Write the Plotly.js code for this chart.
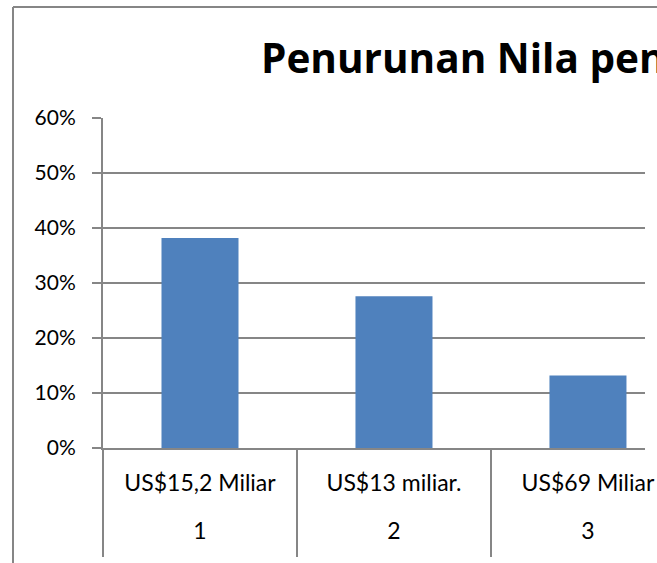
<!DOCTYPE html>
<html><head><meta charset="utf-8">
<script src="https://cdn.plot.ly/plotly-3.0.1.min.js"></script>
<style>html,body{margin:0;padding:0;background:#fff}#chart{width:657px;height:563px}</style>
</head><body><div id="chart"></div>
<script>
const groups = ["1", "2", "3"];
const categories = ["US$15,2 Miliar", "US$13 miliar.", "US$69 Miliar"];
const values = [0.382, 0.276, 0.132];
const yTicks = [0, 0.1, 0.2, 0.3, 0.4, 0.5, 0.6];
const titleText = "Penurunan Nila pen";

const FONT = "Lato, 'Open Sans', sans-serif";
const GRAY = "#868686";
const bars = {
  type: "bar",
  x: categories,
  y: values,
  marker: {color: "#4f81bd", line: {width: 0}},
  hoverinfo: "skip"
};
const groupLevel = {
  type: "scatter", mode: "none",
  x: groups, y: groups.map(() => 0),
  xaxis: "x2", yaxis: "y",
  hoverinfo: "skip", showlegend: false
};
const layout = {
  width: 657, height: 563,
  margin: {l: 103, r: 12, t: 118, b: 115, pad: 0},
  paper_bgcolor: "#fff", plot_bgcolor: "#fff",
  showlegend: false,
  bargap: 0.603,
  title: {text: "<b>" + titleText + "</b>", x: 261/657, xanchor: "left", xref: "container",
          y: 1 - 59/563, yanchor: "middle", yref: "container", pad: {l: 0, r: 0, t: 0, b: 0},
          font: {family: "'Open Sans', sans-serif", size: 40.5, color: "#000"}},
  xaxis: {type: "category", range: [-0.5, 2.294], showgrid: false,
          showline: true, linecolor: GRAY, linewidth: 2,
          tickson: "boundaries", ticks: "outside", ticklen: 107, tickwidth: 2, tickcolor: GRAY,
          ticklabelstandoff: 13,
          tickfont: {family: FONT, size: 23, color: "#000"}, fixedrange: true},
  xaxis2: {type: "category", overlaying: "x", anchor: "y", side: "bottom",
           range: [-0.5, 2.294],
           showgrid: false, zeroline: false, showline: false, ticks: "",
           ticklabelstandoff: 67,
           tickfont: {family: FONT, size: 23, color: "#000"}, fixedrange: true},
  yaxis: {range: [0, 0.6], tickvals: yTicks, tickformat: ".0%",
          showgrid: true, gridcolor: GRAY, gridwidth: 2,
          showline: true, linecolor: GRAY, linewidth: 2,
          ticks: "outside", ticklen: 9, tickcolor: GRAY, tickwidth: 2,
          ticklabelstandoff: 12, zeroline: false,
          tickfont: {family: FONT, size: 21, color: "#000"}, fixedrange: true},
  shapes: [
    {type: "line", xref: "paper", yref: "paper", x0: -90/542, x1: -90/542, y0: 1 + 111/330, y1: -115/330,
     line: {color: GRAY, width: 2}},
    {type: "line", xref: "paper", yref: "paper", x0: -90/542, x1: 1 + 12/542, y0: 1 + 111/330, y1: 1 + 111/330,
     line: {color: GRAY, width: 2}}
  ]
};
Plotly.newPlot("chart", [bars, groupLevel], layout, {displayModeBar: false, staticPlot: true});
</script></body></html>
